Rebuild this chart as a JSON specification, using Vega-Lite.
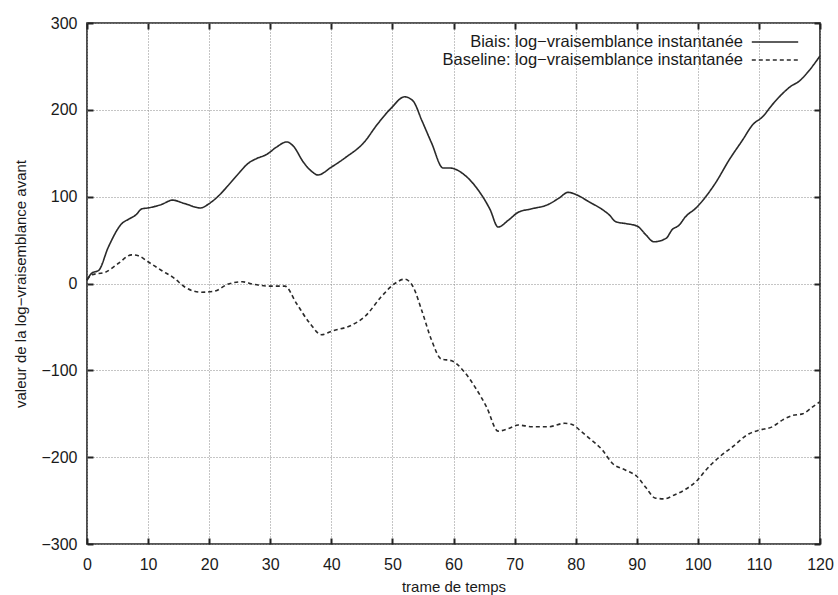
{
  "$schema": "https://vega.github.io/schema/vega-lite/v6.json",
  "autosize": "none",
  "width": 733,
  "height": 521,
  "padding": {"left": 87, "top": 23, "right": 18, "bottom": 51},
  "background": "white",
  "config": {
    "view": {"stroke": "#222", "strokeWidth": 1.6},
    "font": "Liberation Sans",
    "axis": {
      "labelFont": "Liberation Sans",
      "titleFont": "Liberation Sans",
      "labelFontSize": 16,
      "titleFontSize": 15,
      "titleFontWeight": "normal",
      "labelColor": "#1a1a1a",
      "titleColor": "#1a1a1a",
      "domain": false,
      "tickColor": "#222",
      "tickWidth": 2,
      "tickSize": -6,
      "gridColor": "#8a8a8a",
      "gridDash": [1, 2],
      "gridWidth": 1
    },
    "legend": {
      "labelFont": "Liberation Sans",
      "labelFontSize": 16.5,
      "labelColor": "#1a1a1a"
    }
  },
  "data": {
    "values": [
      {"t": 0, "v": 4, "s": "Biais: log−vraisemblance instantanée"},
      {"t": 0.8, "v": 12, "s": "Biais: log−vraisemblance instantanée"},
      {"t": 1.9, "v": 15, "s": "Biais: log−vraisemblance instantanée"},
      {"t": 3.5, "v": 42, "s": "Biais: log−vraisemblance instantanée"},
      {"t": 5.7, "v": 69, "s": "Biais: log−vraisemblance instantanée"},
      {"t": 6.8, "v": 74, "s": "Biais: log−vraisemblance instantanée"},
      {"t": 8, "v": 79, "s": "Biais: log−vraisemblance instantanée"},
      {"t": 9, "v": 86, "s": "Biais: log−vraisemblance instantanée"},
      {"t": 10, "v": 87, "s": "Biais: log−vraisemblance instantanée"},
      {"t": 12.2, "v": 91, "s": "Biais: log−vraisemblance instantanée"},
      {"t": 14, "v": 96, "s": "Biais: log−vraisemblance instantanée"},
      {"t": 16, "v": 92, "s": "Biais: log−vraisemblance instantanée"},
      {"t": 18.6, "v": 87, "s": "Biais: log−vraisemblance instantanée"},
      {"t": 20, "v": 92, "s": "Biais: log−vraisemblance instantanée"},
      {"t": 21.4, "v": 100, "s": "Biais: log−vraisemblance instantanée"},
      {"t": 23, "v": 112, "s": "Biais: log−vraisemblance instantanée"},
      {"t": 24.6, "v": 125, "s": "Biais: log−vraisemblance instantanée"},
      {"t": 26.5, "v": 139, "s": "Biais: log−vraisemblance instantanée"},
      {"t": 27.8, "v": 144, "s": "Biais: log−vraisemblance instantanée"},
      {"t": 29.5, "v": 149, "s": "Biais: log−vraisemblance instantanée"},
      {"t": 31, "v": 157, "s": "Biais: log−vraisemblance instantanée"},
      {"t": 32.7, "v": 163, "s": "Biais: log−vraisemblance instantanée"},
      {"t": 33.8, "v": 158, "s": "Biais: log−vraisemblance instantanée"},
      {"t": 35.4, "v": 140, "s": "Biais: log−vraisemblance instantanée"},
      {"t": 36.8, "v": 129, "s": "Biais: log−vraisemblance instantanée"},
      {"t": 37.8, "v": 125, "s": "Biais: log−vraisemblance instantanée"},
      {"t": 40, "v": 134, "s": "Biais: log−vraisemblance instantanée"},
      {"t": 42.5, "v": 146, "s": "Biais: log−vraisemblance instantanée"},
      {"t": 45.3, "v": 162, "s": "Biais: log−vraisemblance instantanée"},
      {"t": 47.5, "v": 183, "s": "Biais: log−vraisemblance instantanée"},
      {"t": 49.8, "v": 202, "s": "Biais: log−vraisemblance instantanée"},
      {"t": 52, "v": 215, "s": "Biais: log−vraisemblance instantanée"},
      {"t": 53.4, "v": 210, "s": "Biais: log−vraisemblance instantanée"},
      {"t": 54.8, "v": 188, "s": "Biais: log−vraisemblance instantanée"},
      {"t": 56.4, "v": 162, "s": "Biais: log−vraisemblance instantanée"},
      {"t": 58.3, "v": 133, "s": "Biais: log−vraisemblance instantanée"},
      {"t": 59.4, "v": 133, "s": "Biais: log−vraisemblance instantanée"},
      {"t": 61.8, "v": 125, "s": "Biais: log−vraisemblance instantanée"},
      {"t": 64, "v": 108, "s": "Biais: log−vraisemblance instantanée"},
      {"t": 66, "v": 85, "s": "Biais: log−vraisemblance instantanée"},
      {"t": 67.3, "v": 65, "s": "Biais: log−vraisemblance instantanée"},
      {"t": 69, "v": 73, "s": "Biais: log−vraisemblance instantanée"},
      {"t": 70.6, "v": 82, "s": "Biais: log−vraisemblance instantanée"},
      {"t": 72.8, "v": 86, "s": "Biais: log−vraisemblance instantanée"},
      {"t": 75.5, "v": 91, "s": "Biais: log−vraisemblance instantanée"},
      {"t": 77.2, "v": 98, "s": "Biais: log−vraisemblance instantanée"},
      {"t": 78.8, "v": 105, "s": "Biais: log−vraisemblance instantanée"},
      {"t": 80.2, "v": 102, "s": "Biais: log−vraisemblance instantanée"},
      {"t": 82.2, "v": 94, "s": "Biais: log−vraisemblance instantanée"},
      {"t": 84.4, "v": 85, "s": "Biais: log−vraisemblance instantanée"},
      {"t": 85.5, "v": 79, "s": "Biais: log−vraisemblance instantanée"},
      {"t": 86.6, "v": 71, "s": "Biais: log−vraisemblance instantanée"},
      {"t": 88.2, "v": 69, "s": "Biais: log−vraisemblance instantanée"},
      {"t": 90.1, "v": 66, "s": "Biais: log−vraisemblance instantanée"},
      {"t": 91.5, "v": 56, "s": "Biais: log−vraisemblance instantanée"},
      {"t": 92.8, "v": 48, "s": "Biais: log−vraisemblance instantanée"},
      {"t": 94.8, "v": 52, "s": "Biais: log−vraisemblance instantanée"},
      {"t": 95.8, "v": 62, "s": "Biais: log−vraisemblance instantanée"},
      {"t": 96.9, "v": 67, "s": "Biais: log−vraisemblance instantanée"},
      {"t": 98, "v": 77, "s": "Biais: log−vraisemblance instantanée"},
      {"t": 99.7, "v": 87, "s": "Biais: log−vraisemblance instantanée"},
      {"t": 101.3, "v": 100, "s": "Biais: log−vraisemblance instantanée"},
      {"t": 103, "v": 117, "s": "Biais: log−vraisemblance instantanée"},
      {"t": 105.1, "v": 142, "s": "Biais: log−vraisemblance instantanée"},
      {"t": 107.3, "v": 165, "s": "Biais: log−vraisemblance instantanée"},
      {"t": 109, "v": 183, "s": "Biais: log−vraisemblance instantanée"},
      {"t": 110.6, "v": 192, "s": "Biais: log−vraisemblance instantanée"},
      {"t": 112.2, "v": 206, "s": "Biais: log−vraisemblance instantanée"},
      {"t": 113.9, "v": 219, "s": "Biais: log−vraisemblance instantanée"},
      {"t": 115.2, "v": 227, "s": "Biais: log−vraisemblance instantanée"},
      {"t": 116.6, "v": 233, "s": "Biais: log−vraisemblance instantanée"},
      {"t": 118.3, "v": 246, "s": "Biais: log−vraisemblance instantanée"},
      {"t": 120, "v": 262, "s": "Biais: log−vraisemblance instantanée"},
      {"t": 0, "v": 4, "s": "Baseline: log−vraisemblance instantanée"},
      {"t": 0.8, "v": 10, "s": "Baseline: log−vraisemblance instantanée"},
      {"t": 3, "v": 13, "s": "Baseline: log−vraisemblance instantanée"},
      {"t": 5.1, "v": 23, "s": "Baseline: log−vraisemblance instantanée"},
      {"t": 7.3, "v": 33, "s": "Baseline: log−vraisemblance instantanée"},
      {"t": 8.4, "v": 32, "s": "Baseline: log−vraisemblance instantanée"},
      {"t": 10, "v": 25, "s": "Baseline: log−vraisemblance instantanée"},
      {"t": 12.2, "v": 15, "s": "Baseline: log−vraisemblance instantanée"},
      {"t": 14.3, "v": 6, "s": "Baseline: log−vraisemblance instantanée"},
      {"t": 16, "v": -4, "s": "Baseline: log−vraisemblance instantanée"},
      {"t": 18.6, "v": -10, "s": "Baseline: log−vraisemblance instantanée"},
      {"t": 20.8, "v": -9, "s": "Baseline: log−vraisemblance instantanée"},
      {"t": 23, "v": -1, "s": "Baseline: log−vraisemblance instantanée"},
      {"t": 25.4, "v": 2, "s": "Baseline: log−vraisemblance instantanée"},
      {"t": 27.3, "v": -1, "s": "Baseline: log−vraisemblance instantanée"},
      {"t": 30, "v": -3, "s": "Baseline: log−vraisemblance instantanée"},
      {"t": 32.4, "v": -3, "s": "Baseline: log−vraisemblance instantanée"},
      {"t": 34.3, "v": -23, "s": "Baseline: log−vraisemblance instantanée"},
      {"t": 36.5, "v": -46, "s": "Baseline: log−vraisemblance instantanée"},
      {"t": 38.4, "v": -59, "s": "Baseline: log−vraisemblance instantanée"},
      {"t": 40, "v": -55, "s": "Baseline: log−vraisemblance instantanée"},
      {"t": 43.3, "v": -48, "s": "Baseline: log−vraisemblance instantanée"},
      {"t": 45.5, "v": -38, "s": "Baseline: log−vraisemblance instantanée"},
      {"t": 48.2, "v": -15, "s": "Baseline: log−vraisemblance instantanée"},
      {"t": 50.4, "v": 0, "s": "Baseline: log−vraisemblance instantanée"},
      {"t": 52, "v": 5, "s": "Baseline: log−vraisemblance instantanée"},
      {"t": 53.4, "v": -4, "s": "Baseline: log−vraisemblance instantanée"},
      {"t": 54.8, "v": -31, "s": "Baseline: log−vraisemblance instantanée"},
      {"t": 56.4, "v": -65, "s": "Baseline: log−vraisemblance instantanée"},
      {"t": 58, "v": -87, "s": "Baseline: log−vraisemblance instantanée"},
      {"t": 59.7, "v": -89, "s": "Baseline: log−vraisemblance instantanée"},
      {"t": 61.8, "v": -102, "s": "Baseline: log−vraisemblance instantanée"},
      {"t": 63.5, "v": -119, "s": "Baseline: log−vraisemblance instantanée"},
      {"t": 65.4, "v": -142, "s": "Baseline: log−vraisemblance instantanée"},
      {"t": 67.3, "v": -170, "s": "Baseline: log−vraisemblance instantanée"},
      {"t": 69, "v": -167, "s": "Baseline: log−vraisemblance instantanée"},
      {"t": 70.6, "v": -163, "s": "Baseline: log−vraisemblance instantanée"},
      {"t": 72.8, "v": -165, "s": "Baseline: log−vraisemblance instantanée"},
      {"t": 75.5, "v": -165, "s": "Baseline: log−vraisemblance instantanée"},
      {"t": 78.2, "v": -161, "s": "Baseline: log−vraisemblance instantanée"},
      {"t": 79.3, "v": -162, "s": "Baseline: log−vraisemblance instantanée"},
      {"t": 81, "v": -171, "s": "Baseline: log−vraisemblance instantanée"},
      {"t": 82.2, "v": -178, "s": "Baseline: log−vraisemblance instantanée"},
      {"t": 84.4, "v": -192, "s": "Baseline: log−vraisemblance instantanée"},
      {"t": 86, "v": -207, "s": "Baseline: log−vraisemblance instantanée"},
      {"t": 88.2, "v": -215, "s": "Baseline: log−vraisemblance instantanée"},
      {"t": 90, "v": -222, "s": "Baseline: log−vraisemblance instantanée"},
      {"t": 91.5, "v": -235, "s": "Baseline: log−vraisemblance instantanée"},
      {"t": 93, "v": -247, "s": "Baseline: log−vraisemblance instantanée"},
      {"t": 94.5, "v": -248, "s": "Baseline: log−vraisemblance instantanée"},
      {"t": 96, "v": -244, "s": "Baseline: log−vraisemblance instantanée"},
      {"t": 98, "v": -237, "s": "Baseline: log−vraisemblance instantanée"},
      {"t": 100, "v": -226, "s": "Baseline: log−vraisemblance instantanée"},
      {"t": 101.3, "v": -215, "s": "Baseline: log−vraisemblance instantanée"},
      {"t": 103.5, "v": -200, "s": "Baseline: log−vraisemblance instantanée"},
      {"t": 105.7, "v": -188, "s": "Baseline: log−vraisemblance instantanée"},
      {"t": 108.4, "v": -173, "s": "Baseline: log−vraisemblance instantanée"},
      {"t": 110, "v": -169, "s": "Baseline: log−vraisemblance instantanée"},
      {"t": 112.2, "v": -165, "s": "Baseline: log−vraisemblance instantanée"},
      {"t": 113.9, "v": -157, "s": "Baseline: log−vraisemblance instantanée"},
      {"t": 115.5, "v": -152, "s": "Baseline: log−vraisemblance instantanée"},
      {"t": 117.2, "v": -150, "s": "Baseline: log−vraisemblance instantanée"},
      {"t": 118.8, "v": -142, "s": "Baseline: log−vraisemblance instantanée"},
      {"t": 120, "v": -136, "s": "Baseline: log−vraisemblance instantanée"}
    ]
  },
  "resolve": {"axis": {"x": "independent", "y": "independent"}},
  "layer": [
    {
      "mark": {"type": "line", "color": "#2a2a2a", "strokeWidth": 1.6, "interpolate": "monotone"},
      "encoding": {
        "x": {
          "field": "t", "type": "quantitative",
          "scale": {"domain": [0, 120], "nice": false, "zero": false},
          "axis": {"values": [0, 10, 20, 30, 40, 50, 60, 70, 80, 90, 100, 110, 120], "title": "trame de temps", "labelPadding": 18, "titlePadding": 7, "labelFlush": false}
        },
        "y": {
          "field": "v", "type": "quantitative",
          "scale": {"domain": [-300, 300], "nice": false},
          "axis": {"values": [-300, -200, -100, 0, 100, 200, 300], "title": "valeur de la log−vraisemblance avant", "labelPadding": 16, "titlePadding": 12, "labelFlush": false}
        },
        "strokeDash": {
          "field": "s", "type": "nominal",
          "scale": {"domain": ["Biais: log−vraisemblance instantanée", "Baseline: log−vraisemblance instantanée"], "range": [[1, 0], [4, 3]]},
          "legend": {"title": null, "orient": "none", "legendX": 679, "legendY": 10, "symbolType": "M-2.9,0H2.9", "symbolSize": 256, "symbolStrokeWidth": 1.5, "symbolStrokeColor": "#2a2a2a", "rowPadding": -8, "labelAlign": "right", "labelOffset": -41, "labelLimit": 500, "padding": 0}
        }
      }
    },
    {
      "mark": {"type": "line", "strokeOpacity": 0},
      "encoding": {
        "x": {
          "field": "t", "type": "quantitative",
          "axis": {"orient": "top", "values": [0, 10, 20, 30, 40, 50, 60, 70, 80, 90, 100, 110, 120], "labels": false, "grid": false, "title": null}
        },
        "y": {
          "field": "v", "type": "quantitative",
          "axis": {"orient": "right", "values": [-300, -200, -100, 0, 100, 200, 300], "labels": false, "grid": false, "title": null}
        },
        "detail": {"field": "s"}
      }
    }
  ]
}
